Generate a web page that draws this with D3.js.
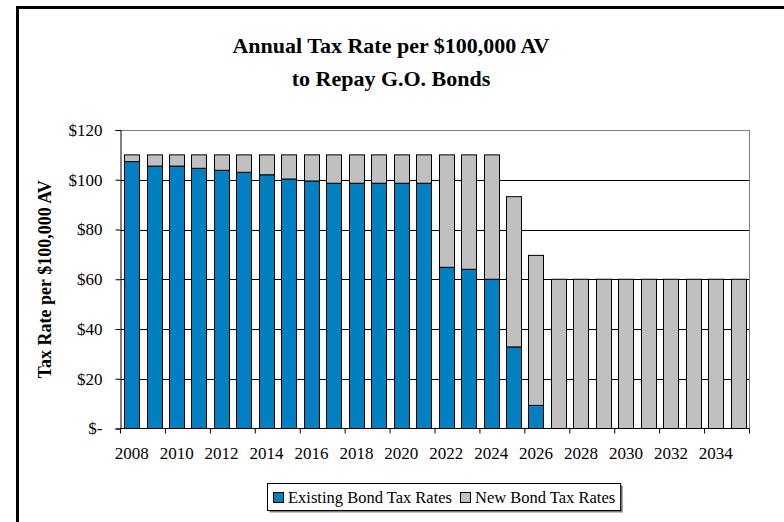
<!DOCTYPE html>
<html>
<head>
<meta charset="utf-8">
<script src="https://cdn.jsdelivr.net/npm/d3@7/dist/d3.min.js"></script>
<style>
  html, body { margin: 0; padding: 0; background: #fff; }
  svg { display: block; }
  text { font-family: "Liberation Serif", "Times New Roman", serif; fill: #000; }
</style>
</head>
<body>
<svg id="chart" width="784" height="522"></svg>
<script>
// Fiscal years on the x axis
const years = d3.range(2008, 2036).map(String);

// Tax rate per $100,000 AV from existing bonds
const existingRates = [
  107.3, 105.5, 105.5, 104.6, 103.8, 103.0, 102.0, 100.3, 99.5, 98.6,
  98.6, 98.6, 98.6, 98.6, 64.8, 64.0, 60.0, 32.8, 9.3, 0,
  0, 0, 0, 0, 0, 0, 0, 0
];

// Tax rate per $100,000 AV from the new bonds
const newRates = [
  2.7, 4.5, 4.5, 5.4, 6.2, 7.0, 8.0, 9.7, 10.5, 11.4,
  11.4, 11.4, 11.4, 11.4, 45.2, 46.0, 50.0, 60.4, 60.3, 60,
  60, 60, 60, 60, 60, 60, 60, 60
];

const yTicks = [0, 20, 40, 60, 80, 100, 120];
const xLabelYears = years.filter((d, i) => i % 2 === 0);

const seriesNames = ["Existing Bond Tax Rates", "New Bond Tax Rates"];
const seriesColors = ["#0080C0", "#C0C0C0"];

const svg = d3.select("#chart");

// Outer chart frame
svg.append("rect")
  .attr("x", 17.5).attr("y", 7.5)
  .attr("width", 800).attr("height", 560)
  .attr("fill", "#fff").attr("stroke", "#000").attr("stroke-width", 3);

// Title
const title = svg.append("text")
  .attr("text-anchor", "middle")
  .attr("font-weight", "bold")
  .attr("font-size", 22);
title.append("tspan").attr("x", 391).attr("y", 53).text("Annual Tax Rate per $100,000 AV");
title.append("tspan").attr("x", 391).attr("y", 86).text("to Repay G.O. Bonds");

const plot = { left: 120.5, right: 749.5, top: 130, bottom: 428.5 };

const x = d3.scaleBand()
  .domain(years)
  .range([plot.left, plot.right])
  .paddingInner(0.32)
  .paddingOuter(0.16);

const y = d3.scaleLinear()
  .domain([0, 120])
  .range([plot.bottom, plot.top]);

// Horizontal gridlines
svg.append("g")
  .selectAll("line")
  .data(yTicks.filter(d => d > 0))
  .join("line")
  .attr("x1", plot.left).attr("x2", plot.right)
  .attr("y1", d => Math.round(y(d)) + 0.5).attr("y2", d => Math.round(y(d)) + 0.5)
  .attr("stroke", d => d === 120 ? "#808080" : "#000")
  .attr("stroke-width", 1);

// Plot area right border
svg.append("line")
  .attr("x1", plot.right).attr("x2", plot.right)
  .attr("y1", plot.top).attr("y2", plot.bottom)
  .attr("stroke", "#808080");

// Stacked bars
const stackData = years.map((yr, i) => ({ year: yr, existing: existingRates[i], added: newRates[i] }));
const stacked = d3.stack().keys(["existing", "added"])(stackData);

svg.append("g")
  .selectAll("g")
  .data(stacked)
  .join("g")
  .attr("fill", (d, i) => seriesColors[i])
  .selectAll("rect")
  .data(d => d.filter(p => p[1] - p[0] > 0))
  .join("rect")
  .attr("x", d => Math.round(x(d.data.year)) + 0.5)
  .attr("width", Math.round(x.bandwidth()))
  .attr("y", d => y(d[1]))
  .attr("height", d => y(d[0]) - y(d[1]))
  .attr("stroke", "#000")
  .attr("stroke-width", 1);

// Y axis
const yAxis = d3.axisLeft(y)
  .tickValues(yTicks)
  .tickSize(5)
  .tickFormat(d => d === 0 ? "$-" : "$" + d);

svg.append("g")
  .attr("transform", `translate(${plot.left},0)`)
  .call(yAxis)
  .call(g => g.select(".domain").attr("stroke", "#000"))
  .call(g => g.selectAll(".tick line").attr("stroke", "#000"))
  .call(g => g.selectAll(".tick text")
    .attr("font-family", "Liberation Serif, serif")
    .attr("font-size", 17)
    .attr("x", -18));

// X axis line
svg.append("line")
  .attr("x1", plot.left).attr("x2", plot.right)
  .attr("y1", plot.bottom).attr("y2", plot.bottom)
  .attr("stroke", "#000");

// X tick marks at every other band boundary
const step = x.step();
svg.append("g")
  .selectAll("line")
  .data(d3.range(0, years.length + 1, 2))
  .join("line")
  .attr("x1", i => plot.left + i * step).attr("x2", i => plot.left + i * step)
  .attr("y1", plot.bottom).attr("y2", plot.bottom + 5)
  .attr("stroke", "#000");

// X tick labels under every other bar
svg.append("g")
  .selectAll("text")
  .data(xLabelYears)
  .join("text")
  .attr("x", d => x(d) + x.bandwidth() / 2)
  .attr("y", 459)
  .attr("text-anchor", "middle")
  .attr("font-size", 17)
  .text(d => d);

// Y axis title
svg.append("text")
  .attr("transform", `translate(51,${(plot.top + plot.bottom) / 2}) rotate(-90)`)
  .attr("text-anchor", "middle")
  .attr("font-weight", "bold")
  .attr("font-size", 18)
  .text("Tax Rate per $100,000 AV");

// Legend
const legend = svg.append("g").attr("transform", "translate(267,483)");
const legendItems = legend.append("g");
let cursor = 6;
seriesNames.forEach((name, i) => {
  const item = legendItems.append("g").attr("transform", `translate(${cursor},0)`);
  item.append("rect")
    .attr("x", 0.5).attr("y", 9.5).attr("width", 10).attr("height", 10)
    .attr("fill", seriesColors[i]).attr("stroke", "#000");
  const t = item.append("text")
    .attr("x", 15).attr("y", 20)
    .attr("font-size", 16.5)
    .text(name);
  cursor += 15 + t.node().getComputedTextLength() + 8;
});
const legendW = cursor - 3;
legend.insert("rect", ":first-child")
  .attr("x", 2.5).attr("y", 2.5).attr("width", legendW).attr("height", 27)
  .attr("fill", "#808080");
legend.insert("rect", "g")
  .attr("x", 0.5).attr("y", 0.5).attr("width", legendW).attr("height", 27)
  .attr("fill", "#fff").attr("stroke", "#000");
</script>
</body>
</html>
